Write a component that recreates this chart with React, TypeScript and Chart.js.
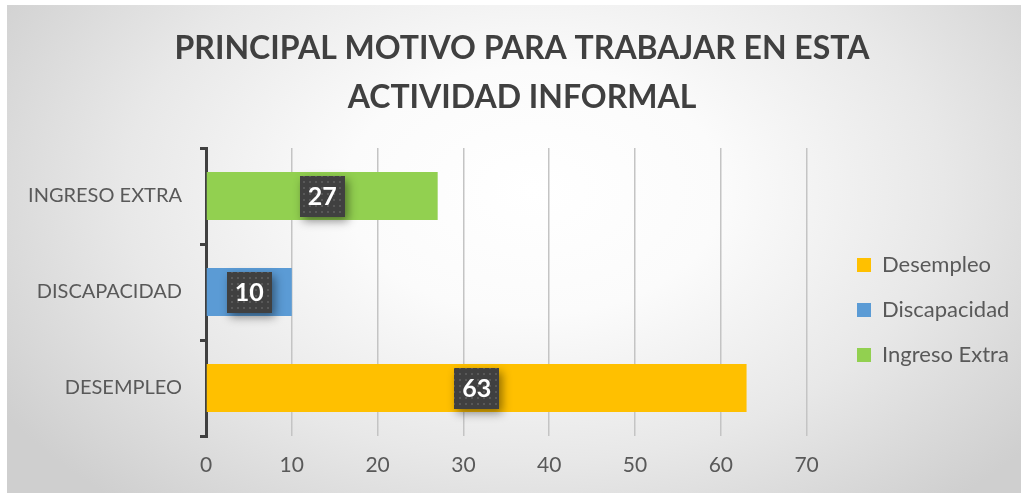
import React, { useEffect, useRef } from 'react';
import { Chart, registerables } from 'chart.js';

Chart.register(...registerables);

// ---- data ----
const titleLines = ['PRINCIPAL MOTIVO PARA TRABAJAR EN ESTA', 'ACTIVIDAD INFORMAL'];
const categories = ['INGRESO EXTRA', 'DISCAPACIDAD', 'DESEMPLEO'];
const seriesNames = ['Desempleo', 'Discapacidad', 'Ingreso Extra'];
const desempleo = [null, null, 63];
const discapacidad = [null, 10, null];
const ingresoExtra = [27, null, null];
const seriesColors = ['#FFC000', '#5B9BD5', '#92D050'];
const xMin = 0;
const xMax = 70;
const xStep = 10;

const FONT = 'Lato, Carlito, Calibri, "Open Sans", sans-serif';
const TEXT = '#595959';

function makePattern(ctx: CanvasRenderingContext2D) {
  const c = document.createElement('canvas');
  c.width = 6;
  c.height = 6;
  const p = c.getContext('2d')!;
  p.fillStyle = 'rgba(255,255,255,0.13)';
  p.fillRect(2, 2, 2, 2);
  return ctx.createPattern(c, 'repeat');
}

const boxLabelPlugin = {
  id: 'boxLabels',
  afterDatasetsDraw(chart: any) {
    const ctx: CanvasRenderingContext2D = chart.ctx;
    const pattern = makePattern(ctx);
    chart.data.datasets.forEach((ds: any, di: number) => {
      const meta = chart.getDatasetMeta(di);
      meta.data.forEach((el: any, i: number) => {
        const v = ds.data[i];
        if (v == null) return;
        const { x, y, base } = el.getProps(['x', 'y', 'base'], true);
        const cx = (x + base) / 2;
        const text = String(v);
        ctx.save();
        ctx.font = `bold 25px ${FONT}`;
        const tw = ctx.measureText(text).width;
        const w = Math.round(tw + 16);
        const h = 41;
        const bx = Math.round(cx - w / 2);
        const by = Math.round(y - h / 2);
        ctx.shadowColor = 'rgba(0,0,0,0.45)';
        ctx.shadowBlur = 9;
        ctx.shadowOffsetX = 3;
        ctx.shadowOffsetY = 4;
        ctx.fillStyle = '#404040';
        ctx.fillRect(bx, by, w, h);
        ctx.restore();
        ctx.save();
        if (pattern) {
          ctx.fillStyle = pattern;
          ctx.fillRect(bx, by, w, h);
        }
        ctx.fillStyle = '#ffffff';
        ctx.font = `bold 25px ${FONT}`;
        ctx.textAlign = 'center';
        ctx.textBaseline = 'middle';
        ctx.fillText(text, cx, y + 1);
        ctx.restore();
      });
    });
  },
};

const boxShiftPlugin = {
  id: 'boxShift',
  afterLayout(chart: any) {
    const lg = chart.legend;
    if (lg) {
      const targetLeft = 850 - 23;
      const dx = targetLeft - lg.left;
      lg.left += dx;
      lg.right += dx;
      lg.top += 61;
      lg.bottom += 61;
    }
    const tb = chart.titleBlock;
    if (tb) {
      tb.left += 14.5;
      tb.right += 14.5;
    }
  },
};

export default function App() {
  const ref = useRef<HTMLCanvasElement | null>(null);

  useEffect(() => {
    if (!ref.current) return;
    const chart = new Chart(ref.current, {
      type: 'bar',
      data: {
        labels: categories,
        datasets: [
          { label: seriesNames[0], data: desempleo, backgroundColor: seriesColors[0] },
          { label: seriesNames[1], data: discapacidad, backgroundColor: seriesColors[1] },
          { label: seriesNames[2], data: ingresoExtra, backgroundColor: seriesColors[2] },
        ] as any,
      },
      options: {
        indexAxis: 'y',
        animation: false,
        responsive: false,
        maintainAspectRatio: false,
        datasets: { bar: { barPercentage: 0.5, categoryPercentage: 1.0 } },
        layout: { padding: { left: 16, right: 29, top: 0, bottom: 0 } },
        scales: {
          x: {
            stacked: true,
            min: xMin,
            max: xMax,
            ticks: { stepSize: xStep, color: TEXT, font: { family: FONT, size: 21 }, padding: 17 },
            grid: { color: '#c4c4c4', lineWidth: 1.5, drawTicks: false },
            border: { display: false },
            afterFit: (s: any) => { s.height = 57; },
          },
          y: {
            stacked: true,
            ticks: { color: TEXT, font: { family: FONT, size: 20 }, padding: 18 },
            grid: { offset: true, drawOnChartArea: false, color: '#404040', lineWidth: 3, tickLength: 6 },
            border: { display: true, color: '#404040', width: 3 },
            afterFit: (s: any) => { s.width = 183; },
          },
        },
        plugins: {
          title: {
            display: true,
            text: titleLines,
            color: '#404040',
            font: { family: FONT, size: 32, weight: 'bold', lineHeight: 48.5 / 32 },
            padding: { top: 19.75, bottom: 26.25 },
          },
          legend: {
            display: true,
            position: 'right',
            labels: {
              color: TEXT,
              font: { family: FONT, size: 22 },
              boxWidth: 14,
              boxHeight: 14,
              padding: 23,
            },
          },
          tooltip: { enabled: false },
        },
      },
      plugins: [boxLabelPlugin, boxShiftPlugin],
    });
    return () => chart.destroy();
  }, []);

  return (
    <div
      style={{
        position: 'fixed',
        left: 0,
        top: 0,
        width: 1021,
        height: 493,
        background: '#ffffff',
      }}
    >
      <div
        style={{
          position: 'absolute',
          left: 7,
          top: 5,
          width: 1014,
          height: 488,
          background:
            'radial-gradient(ellipse 62% 85% at 52% 38%, #ffffff 0%, #fbfbfb 30%, #e8e8e8 65%, #cfcfcf 100%)',
        }}
      >
        <canvas ref={ref} width={1014} height={488} style={{ display: 'block', width: 1014, height: 488 }} />
      </div>
    </div>
  );
}
